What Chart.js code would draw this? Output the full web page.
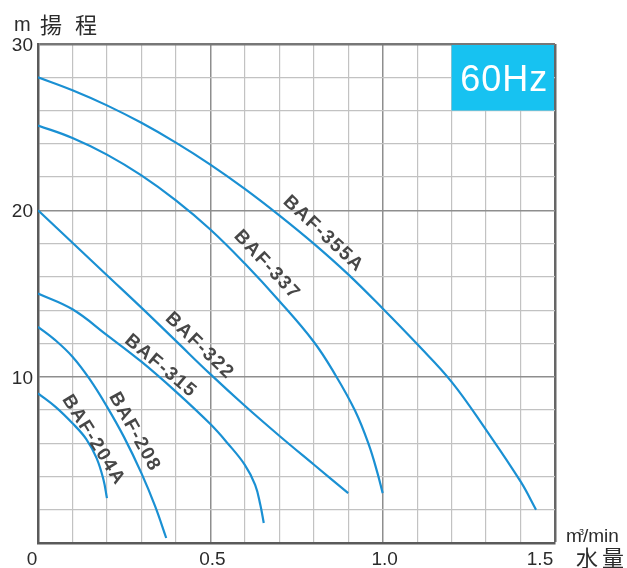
<!DOCTYPE html>
<html lang="ja">
<head>
<meta charset="UTF-8">
<title>60Hz 性能曲線</title>
<script src="https://cdn.jsdelivr.net/npm/chart.js"></script>
<style>
  body { margin: 0; background: #fff; }
  #wrap { width: 627px; height: 568px; }
</style>
</head>
<body>
<div id="wrap"><canvas id="curva" width="627" height="568"></canvas></div>
<script>
  // 各機種の水量 (m3/min) と揚程 (m)
  var q355a = [0, 0.1, 0.2, 0.3, 0.4, 0.5, 0.6, 0.7, 0.8, 0.9, 1.0, 1.1, 1.2, 1.3, 1.4, 1.445];
  var h355a = [28.0, 27.22, 26.31, 25.26, 24.07, 22.75, 21.29, 19.7, 18.0, 16.15, 14.1, 11.96, 9.69, 6.8, 3.7, 2.0];

  var q337 = [0, 0.1, 0.2, 0.3, 0.4, 0.5, 0.6, 0.7, 0.8, 0.86, 0.92, 0.96, 0.985, 1.0];
  var h337 = [25.1, 24.35, 23.35, 22.1, 20.6, 18.85, 16.8, 14.55, 12.1, 10.2, 7.95, 5.9, 4.2, 3.0];

  var q322 = [0, 0.1, 0.2, 0.3, 0.4, 0.5, 0.6, 0.7, 0.8, 0.9];
  var h322 = [20.0, 18.05, 16.1, 14.15, 12.15, 10.15, 8.25, 6.45, 4.72, 3.0];

  var q315 = [0, 0.1, 0.2, 0.3, 0.4, 0.5, 0.55, 0.6, 0.63, 0.645, 0.655];
  var h315 = [15.0, 14.05, 12.5, 10.9, 9.1, 7.15, 6.0, 4.7, 3.5, 2.3, 1.2];

  var q208 = [0, 0.05, 0.1, 0.15, 0.2, 0.25, 0.3, 0.34, 0.372];
  var h208 = [13.0, 12.2, 11.2, 9.85, 8.2, 6.35, 4.2, 2.2, 0.3];

  var q204a = [0, 0.05, 0.1, 0.14, 0.17, 0.19, 0.2];
  var h204a = [9.0, 8.2, 7.2, 6.25, 5.1, 3.8, 2.7];

  var nombres = ["BAF-355A", "BAF-337", "BAF-322", "BAF-315", "BAF-208", "BAF-204A"];
  var listaQ = [q355a, q337, q322, q315, q208, q204a];
  var listaH = [h355a, h337, h322, h315, h208, h204a];

  // rótulos das curvas: posição em unidades do gráfico e ângulo
  var rotuloQ = [0.828, 0.664, 0.469, 0.356, 0.280, 0.161];
  var rotuloH = [18.58, 16.72, 11.85, 10.64, 6.67, 6.19];
  var rotuloAng = [43, 47, 44, 40, 61, 58];

  var xTicks = [0, 0.5, 1.0, 1.5];
  var xTickLabels = ["0", "0.5", "1.0", "1.5"];
  var yTicks = [10, 20, 30];
  var yTickLabels = ["10", "20", "30"];

  var AZUL = "#1a90d3";
  var FONTE = '"Liberation Sans", Arial, sans-serif';
  var CJK = '"Noto Sans CJK JP", "Noto Sans CJK SC", sans-serif';

  var datasets = [];
  for (var i = 0; i < nombres.length; i++) {
    var pts = [];
    for (var j = 0; j < listaQ[i].length; j++) {
      pts.push({ x: listaQ[i][j], y: listaH[i][j] });
    }
    datasets.push({
      label: nombres[i],
      data: pts,
      showLine: true,
      borderColor: AZUL,
      borderWidth: 2.2,
      pointRadius: 0,
      tension: 0.4,
      fill: false
    });
  }

  function ehMaiorX(v) {
    return Math.abs(v * 2 - Math.round(v * 2)) < 1e-6;
  }

  var extras = {
    id: "extras",
    beforeDatasetsDraw: function (chart) {
      var c = chart.ctx, xs = chart.scales.x, ys = chart.scales.y;
      // caixa 60Hz
      var x0 = xs.getPixelForValue(1.2), x1 = xs.getPixelForValue(1.5);
      var y0 = ys.getPixelForValue(30), y1 = ys.getPixelForValue(26);
      c.save();
      c.fillStyle = "#17c2f1";
      c.fillRect(x0, y0 + 1, x1 - x0 - 1, y1 - y0 - 1);
      c.fillStyle = "#fff";
      c.font = "36px " + FONTE;
      c.textAlign = "center";
      c.textBaseline = "alphabetic";
      c.letterSpacing = "1px";
      c.fillText("60Hz", (x0 + x1) / 2 + 1, y0 + 47);
      c.restore();
    },
    afterDatasetsDraw: function (chart) {
      var c = chart.ctx, xs = chart.scales.x, ys = chart.scales.y;
      c.save();
      // rótulos das curvas
      c.fillStyle = "#474747";
      c.font = "bold 19px " + FONTE;
      c.letterSpacing = "1.5px";
      c.textAlign = "center";
      c.textBaseline = "middle";
      for (var i = 0; i < nombres.length; i++) {
        c.save();
        c.translate(xs.getPixelForValue(rotuloQ[i]), ys.getPixelForValue(rotuloH[i]));
        c.rotate(rotuloAng[i] * Math.PI / 180);
        c.fillText(nombres[i], 0, 0);
        c.restore();
      }
      c.letterSpacing = "0px";

      // ticks
      c.fillStyle = "#2b2b2b";
      c.font = "19px " + FONTE;
      c.textAlign = "right";
      c.textBaseline = "alphabetic";
      for (var k = 0; k < yTicks.length; k++) {
        c.fillText(yTickLabels[k], 33, ys.getPixelForValue(yTicks[k]) + 7);
      }
      var base = ys.getPixelForValue(0);
      c.textAlign = "center";
      for (var m = 0; m < xTicks.length; m++) {
        var px = xs.getPixelForValue(xTicks[m]);
        if (xTicks[m] === 0) px -= 8;
        if (xTicks[m] === 1.5) px -= 17;
        c.fillText(xTickLabels[m], px + 2, base + 22);
      }

      // títulos dos eixos
      c.textAlign = "left";
      c.font = "20px " + FONTE;
      c.fillText("m", 14, 31);
      c.font = "22px " + CJK;
      c.fillText("揚", 40, 33);
      c.fillText("程", 75, 33);

      c.font = "19px " + FONTE;
      c.fillText("m", 566, 542);
      c.font = "9px " + FONTE;
      c.fillText("3", 579, 535);
      c.font = "19px " + FONTE;
      c.fillText("/min", 583, 542);
      c.font = "22px " + CJK;
      c.fillText("水", 576, 566);
      c.fillText("量", 602, 566);
      c.restore();
    }
  };

  var ctx = document.getElementById("curva").getContext("2d");
  var grafico = new Chart(ctx, {
    type: "scatter",
    data: { datasets: datasets },
    options: {
      responsive: false,
      animation: false,
      layout: { padding: { left: 38, right: 72, top: 44, bottom: 25 } },
      plugins: { legend: { display: false }, tooltip: { enabled: false } },
      scales: {
        x: {
          type: "linear",
          min: 0,
          max: 1.5,
          ticks: { stepSize: 0.1, display: false },
          grid: {
            drawTicks: false,
            color: function (c) {
              var v = c.tick ? c.tick.value : 0;
              if (Math.abs(v - 1.5) < 1e-6) return "#666";
              return ehMaiorX(v) ? "#8e8e8e" : "#c2c2c2";
            },
            lineWidth: function (c) {
              var v = c.tick ? c.tick.value : 0;
              if (Math.abs(v - 1.5) < 1e-6) return 2.5;
              return ehMaiorX(v) ? 1.5 : 1.2;
            }
          },
          border: { color: "#5a5a5a", width: 2.5 }
        },
        y: {
          type: "linear",
          min: 0,
          max: 30,
          ticks: { stepSize: 2, display: false },
          grid: {
            drawTicks: false,
            color: function (c) {
              var v = c.tick ? c.tick.value : 0;
              if (v === 30) return "#777";
              return v % 10 === 0 ? "#8e8e8e" : "#c2c2c2";
            },
            lineWidth: function (c) {
              var v = c.tick ? c.tick.value : 0;
              if (v === 30) return 2.5;
              return v % 10 === 0 ? 1.5 : 1.2;
            }
          },
          border: { color: "#5a5a5a", width: 2.5 }
        }
      }
    },
    plugins: [extras]
  });
</script>
</body>
</html>
